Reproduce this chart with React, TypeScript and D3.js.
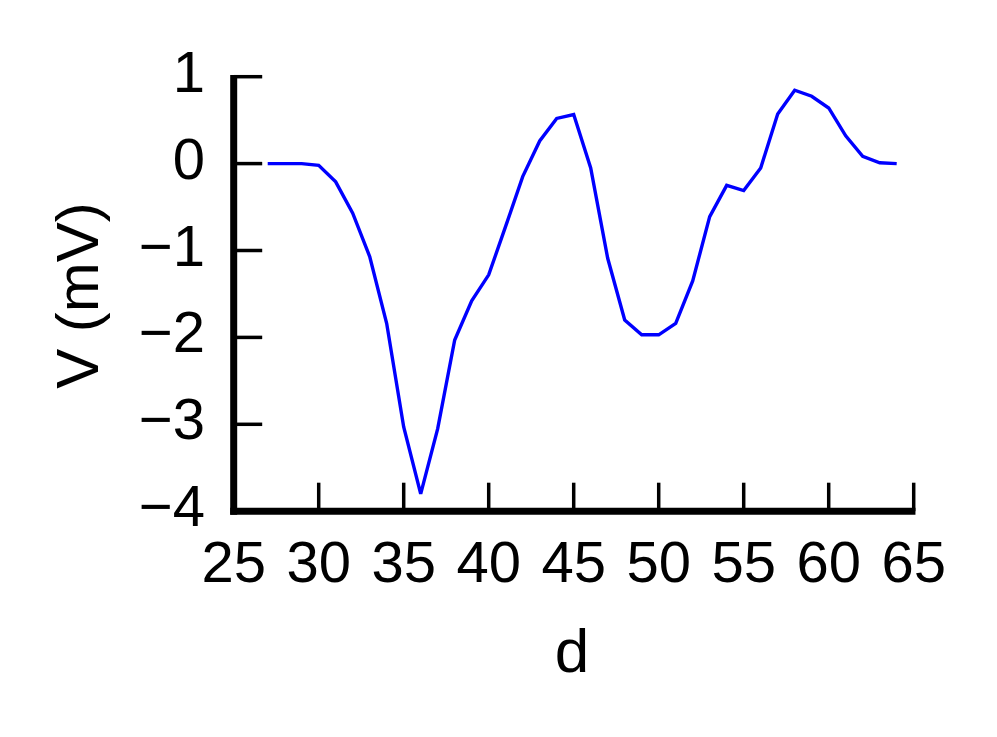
import React from "react";
import * as d3 from "d3";

const dValues: number[] = [
  27, 28, 29, 30, 31, 32, 33, 34, 35, 36, 37, 38, 39, 40, 41, 42, 43, 44, 45, 46,
  47, 48, 49, 50, 51, 52, 53, 54, 55, 56, 57, 58, 59, 60, 61, 62, 63, 64,
];
const vValues: number[] = [
  0, 0, 0, -0.02, -0.21, -0.57, -1.07, -1.84, -3.03, -3.8, -3.05, -2.03, -1.58,
  -1.28, -0.72, -0.15, 0.26, 0.52, 0.565, -0.05, -1.09, -1.8, -1.97, -1.97, -1.84,
  -1.35, -0.61, -0.25, -0.31, -0.05, 0.57, 0.845, 0.775, 0.64, 0.32, 0.085, 0.01, 0,
];
const xTicks: number[] = [25, 30, 35, 40, 45, 50, 55, 60, 65];
const yTicks: number[] = [1, 0, -1, -2, -3, -4];
const xTitle = "d";
const yTitle = "V (mV)";

const W = 997;
const H = 737;
const FONT = "'Liberation Sans', Arial, Helvetica, sans-serif";

export default function App() {
  const x = d3.scaleLinear().domain([25, 65]).range([233.7, 913.7]);
  const y = d3.scaleLinear().domain([-4, 1]).range([511.2, 76.7]);
  const pts = dValues.map((d, i) => [d, vValues[i]] as [number, number]);
  const line = d3
    .line<[number, number]>()
    .x((p) => x(p[0]))
    .y((p) => y(p[1]));
  const fmt = (v: number) => (v < 0 ? "\u2212" + Math.abs(v) : String(v));
  const tickLen = 28.5;
  const axisW = 7;
  const tickW = 3.5;

  return (
    <svg
      width={W}
      height={H}
      viewBox={`0 0 ${W} ${H}`}
      style={{ position: "absolute", left: 0, top: 0, background: "#fff" }}
    >
      <rect x={0} y={0} width={W} height={H} fill="#fff" />
      {/* data line */}
      <path
        d={line(pts) || ""}
        fill="none"
        stroke="#0000ff"
        strokeWidth={3.4}
        strokeLinejoin="miter"
      />
      {/* y axis */}
      <line
        x1={x(25)}
        x2={x(25)}
        y1={y(1) - tickW / 2}
        y2={y(-4) + axisW / 2}
        stroke="#000"
        strokeWidth={axisW}
      />
      {yTicks.map((t) => (
        <g key={"yt" + t}>
          <line
            x1={x(25)}
            x2={x(25) + tickLen}
            y1={y(t)}
            y2={y(t)}
            stroke="#000"
            strokeWidth={tickW}
          />
          <text
            x={205}
            y={y(t) + 15}
            textAnchor="end"
            fontFamily={FONT}
            fontSize={58}
            fill="#000"
          >
            {fmt(t)}
          </text>
        </g>
      ))}
      {/* x axis */}
      <line
        x1={x(25) - axisW / 2}
        x2={x(65) + tickW / 2}
        y1={y(-4)}
        y2={y(-4)}
        stroke="#000"
        strokeWidth={axisW}
      />
      {xTicks.map((t) => (
        <g key={"xt" + t}>
          <line
            x1={x(t)}
            x2={x(t)}
            y1={y(-4)}
            y2={y(-4) - tickLen}
            stroke="#000"
            strokeWidth={tickW}
          />
          <text
            x={x(t)}
            y={581.5}
            textAnchor="middle"
            fontFamily={FONT}
            fontSize={58}
            fill="#000"
          >
            {fmt(t)}
          </text>
        </g>
      ))}
      <text
        x={572}
        y={672}
        textAnchor="middle"
        fontFamily={FONT}
        fontSize={62}
        fill="#000"
      >
        {xTitle}
      </text>
      <text
        transform={`translate(98, 295.5) rotate(-90)`}
        textAnchor="middle"
        fontFamily={FONT}
        fontSize={60}
        fill="#000"
      >
        {yTitle}
      </text>
    </svg>
  );
}
